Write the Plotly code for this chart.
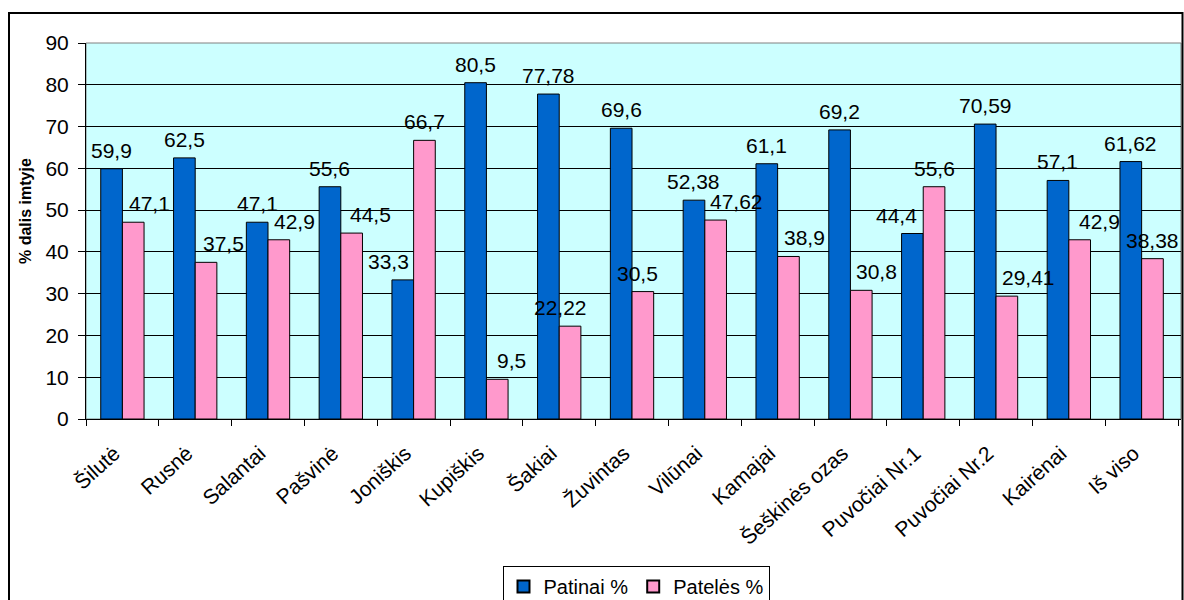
import plotly.graph_objects as go

# Sampling sites
sites = ["Šilutė", "Rusnė", "Salantai", "Pašvinė", "Joniškis", "Kupiškis", "Šakiai",
         "Žuvintas", "Vilūnai", "Kamajai", "Šeškinės ozas", "Puvočiai Nr.1",
         "Puvočiai Nr.2", "Kairėnai", "Iš viso"]

# Share of males and females in each sample, %
patinai = [59.9, 62.5, 47.1, 55.6, 33.3, 80.5, 77.78, 69.6, 52.38, 61.1, 69.2, 44.4, 70.59, 57.1, 61.62]
pateles = [47.1, 37.5, 42.9, 44.5, 66.7, 9.5, 22.22, 30.5, 47.62, 38.9, 30.8, 55.6, 29.41, 42.9, 38.38]

# Horizontal nudges (px) for value labels that sit beside their bar
nudge_patinai = [0, 0, 0, 0, -14, 0, 0, 0, 0, 0, 0, -16, 0, 0, 0]
nudge_pateles = [16, 17, 16, 19, 0, 14, -10, -5, 21, 16, 15, 0, 22, 20, 0]

W, H = 1184, 600
L, R, T, B = 86, 3, 43, 181
PW, PH = W - L - R, H - T - B
BARGAP = 0.405

FONT = "Liberation Sans, Arial, sans-serif"
FS = 21
BLUE = "#0066CC"
PINK = "#FF99CC"


def fmt(v):
    return f"{v:g}".replace(".", ",")


fig = go.Figure()
fig.add_trace(go.Bar(name="Patinai %", x=sites, y=patinai,
                     marker=dict(color=BLUE, line=dict(color="black", width=1))))
fig.add_trace(go.Bar(name="Patelės %", x=sites, y=pateles,
                     marker=dict(color=PINK, line=dict(color="black", width=1))))

# Value labels placed above each bar of the group
cat_w = PW / len(sites)
bar_w = cat_w * (1 - BARGAP) / 2
annotations = []
for vals, nudges, side in ((patinai, nudge_patinai, -1), (pateles, nudge_pateles, 1)):
    for s, v, n in zip(sites, vals, nudges):
        annotations.append(dict(
            x=s, y=v, xref="x", yref="y", text=fmt(v), showarrow=False,
            xanchor="center", yanchor="bottom", xshift=side * bar_w / 2 + n, yshift=5,
            font=dict(family=FONT, size=FS, color="black")))

# Vertical axis title
annotations.append(dict(
    text="<b>% dalis imtyje</b>", textangle=-90, showarrow=False,
    xref="paper", yref="paper", x=(25 - L) / PW, y=1 - (211 - T) / PH,
    xanchor="center", yanchor="middle",
    font=dict(family=FONT, size=16, color="black")))

shapes = [
    # plot area frame
    dict(type="rect", xref="paper", yref="paper", x0=0, x1=1, y0=0, y1=1,
         line=dict(color="#808080", width=1), layer="below"),
    # chart border
    dict(type="rect", xref="paper", yref="paper",
         x0=(9 - L) / PW, x1=(1182.5 - L) / PW,
         y0=-(H + 20 - (T + PH)) / PH, y1=1 + (T - 13) / PH,
         line=dict(color="black", width=2)),
]

fig.update_layout(
    width=W, height=H,
    margin=dict(l=L, r=R, t=T, b=B, pad=0, autoexpand=False),
    paper_bgcolor="white",
    plot_bgcolor="#CCFFFF",
    barmode="group", bargap=BARGAP, bargroupgap=0,
    font=dict(family=FONT, size=FS, color="black"),
    showlegend=True,
    legend=dict(orientation="h", x=(636 - L) / PW, xanchor="center",
                y=-(566 - (T + PH)) / PH, yanchor="top",
                bordercolor="black", borderwidth=1, bgcolor="white",
                font=dict(family=FONT, size=20, color="black"),
                itemsizing="constant", itemwidth=30, tracegroupgap=0),
    annotations=annotations,
    shapes=shapes,
)

fig.update_xaxes(type="category", tickson="boundaries", ticks="outside", ticklen=6,
                 tickcolor="black", showline=True, linecolor="black", linewidth=1,
                 tickangle=-42, ticklabelstandoff=13, ticklabelshift=-8, automargin=False,
                 tickfont=dict(family=FONT, size=FS, color="black"),
                 showgrid=False)
fig.update_yaxes(range=[0, 90], dtick=10, ticks="outside", ticklen=7, tickcolor="black",
                 showline=True, linecolor="black", linewidth=1,
                 showgrid=True, gridcolor="black", gridwidth=1, zeroline=False,
                 ticklabelstandoff=5, automargin=False,
                 tickfont=dict(family=FONT, size=FS, color="black"))

fig.write_html("out.html")
